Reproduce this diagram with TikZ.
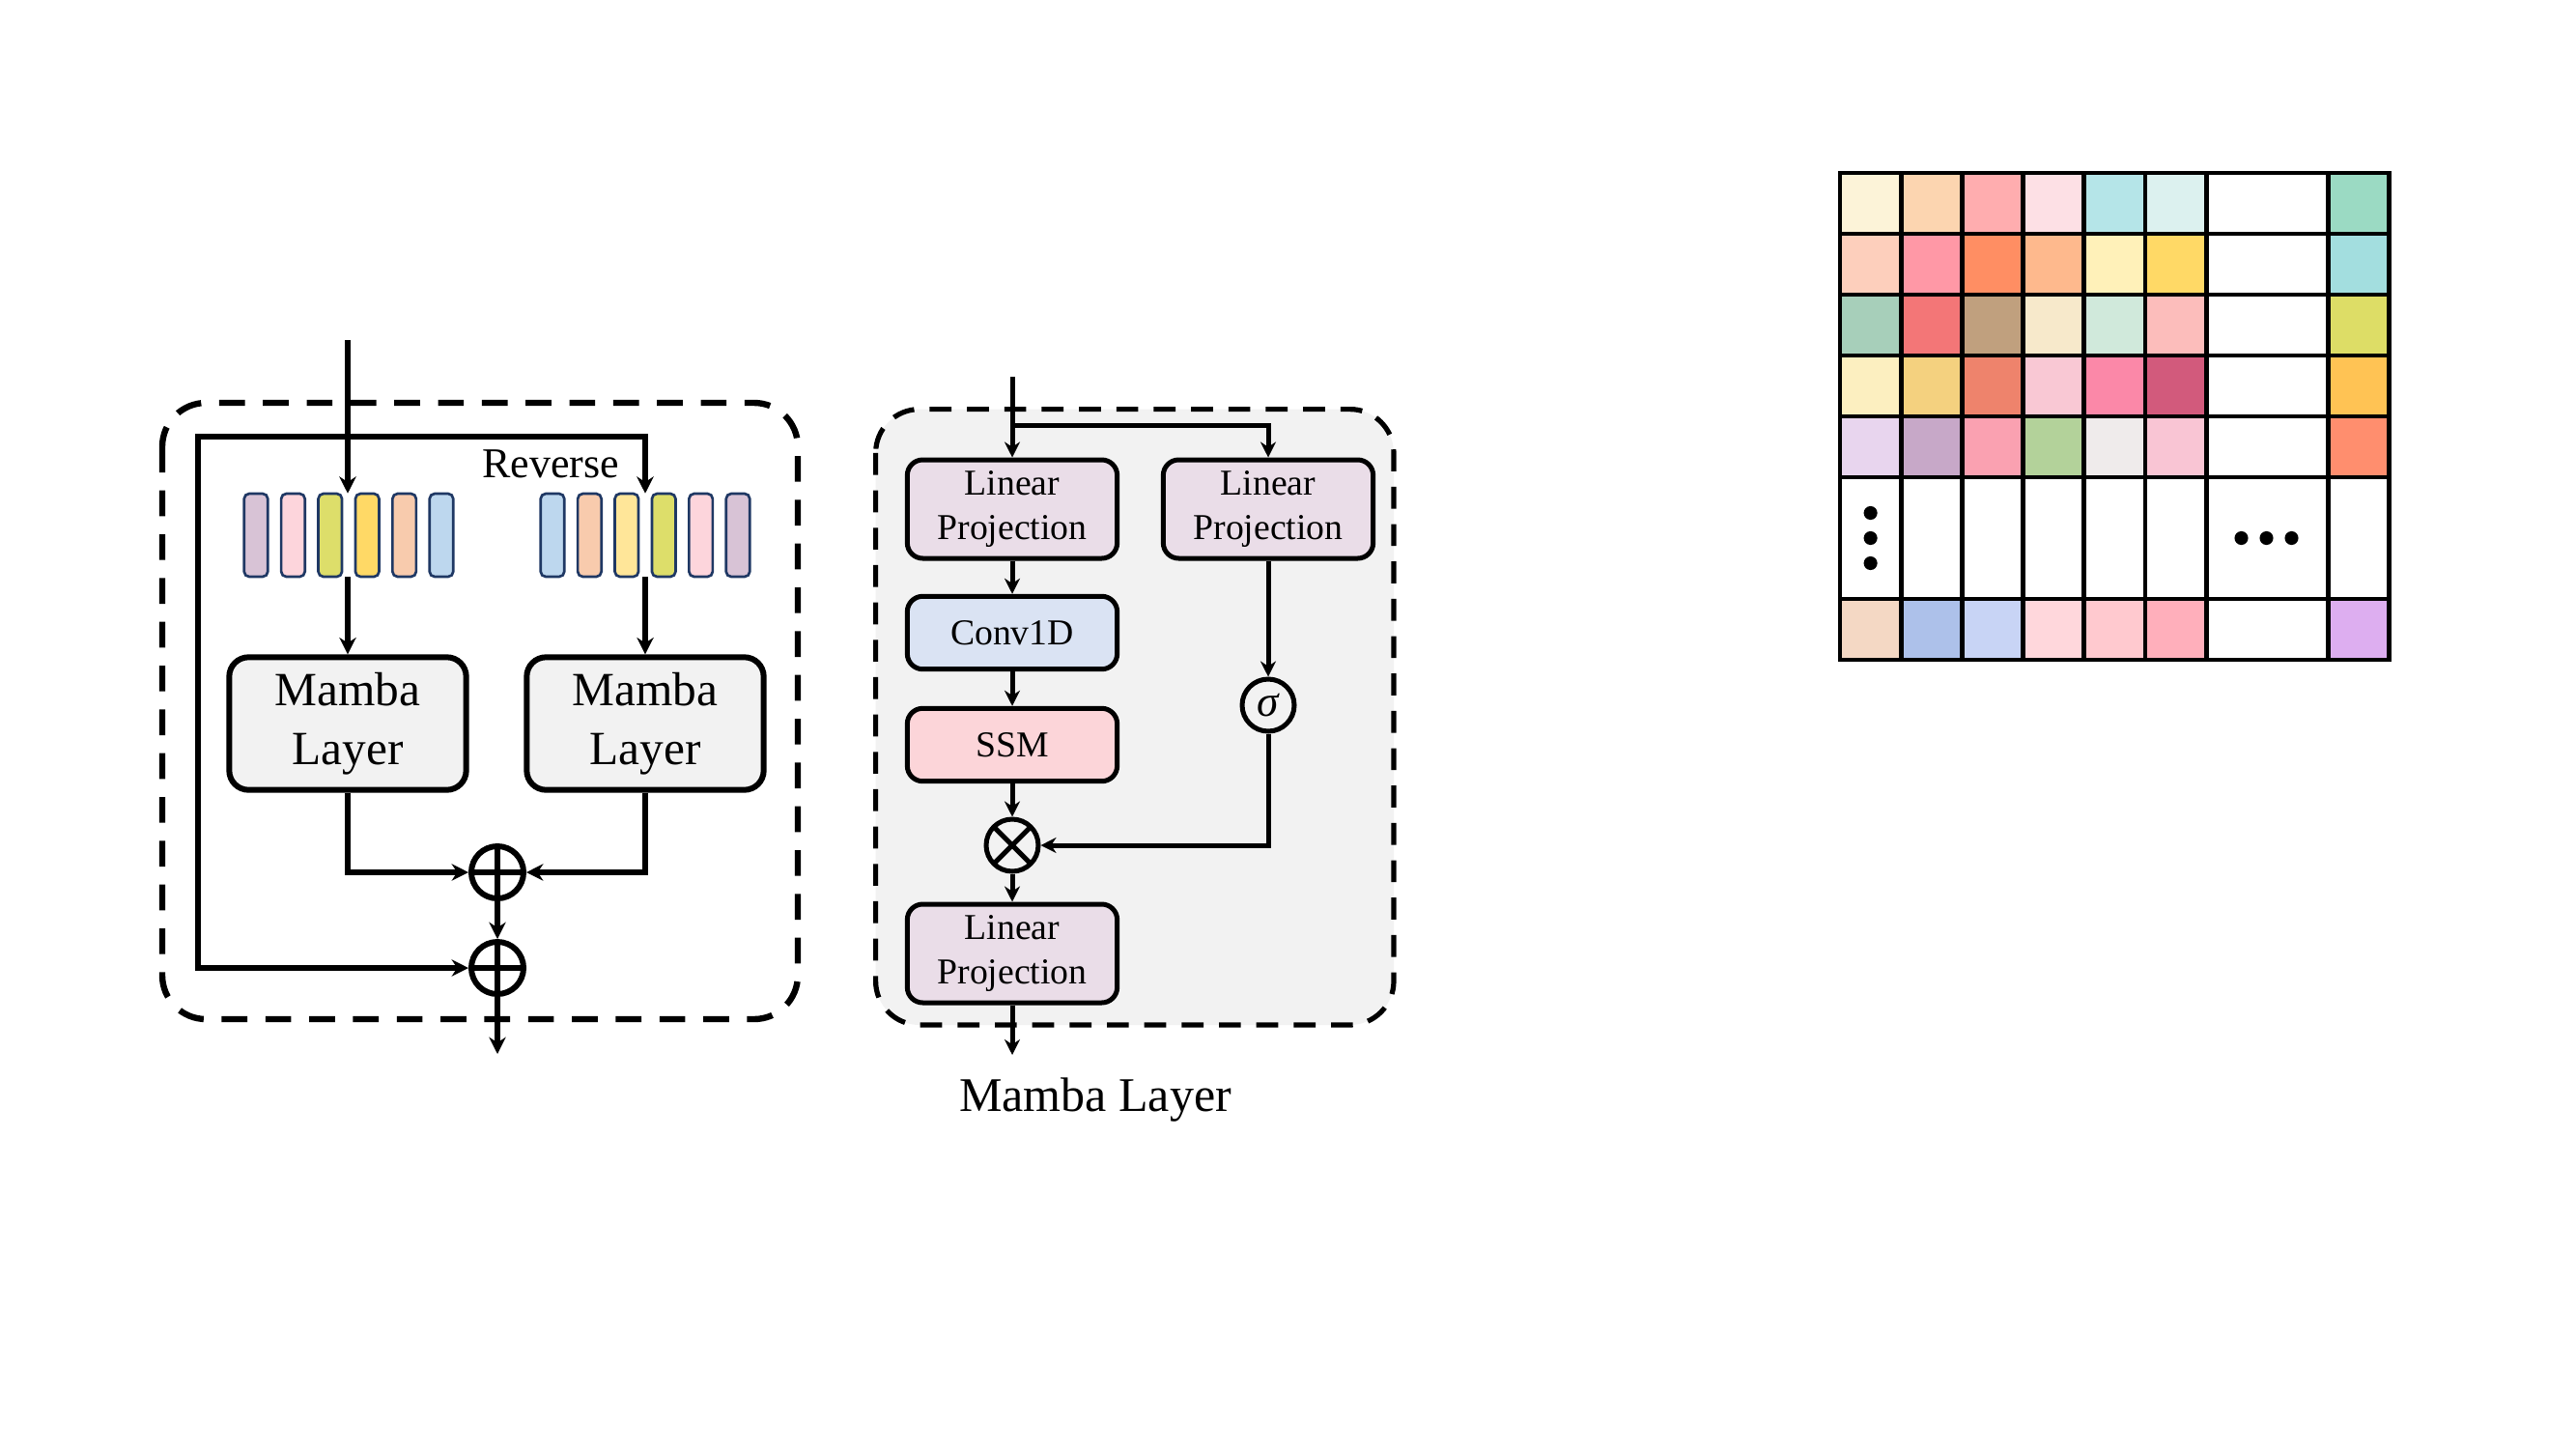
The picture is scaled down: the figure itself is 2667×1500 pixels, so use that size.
\documentclass[tikz,border=0pt]{standalone}
\usepackage{fontspec}
\setmainfont{Liberation Serif}
\usetikzlibrary{arrows.meta}
\definecolor{boxgray}{HTML}{F2F2F2}
\definecolor{projpurple}{HTML}{EADDE8}
\definecolor{convblue}{HTML}{DAE3F3}
\definecolor{ssmpink}{HTML}{FCD5D9}
\definecolor{tokedge}{HTML}{1F3864}
\definecolor{tokA}{HTML}{D8C3D6}
\definecolor{tokB}{HTML}{FDD5DC}
\definecolor{tokC}{HTML}{DDDE6A}
\definecolor{tokD}{HTML}{FFD966}
\definecolor{tokE}{HTML}{F8CBAD}
\definecolor{tokF}{HTML}{BDD7EE}
\definecolor{tokG}{HTML}{FFE699}

\begin{document}
\begin{tikzpicture}[x=0.75pt,y=0.75pt,yscale=-1,xscale=1,
  flow/.style={line width=4.5pt,-{Stealth[length=13pt,width=13pt]}},
  flowthin/.style={line width=3.75pt,-{Stealth[length=12pt,width=12pt]}},
  frame/.style={line width=4.8pt,dash pattern=on 20pt off 14pt,rounded corners=34pt},
  token/.style={draw=tokedge,line width=2pt,rounded corners=4pt,minimum width=18.4pt,minimum height=64.5pt,inner sep=0pt},
  mamba/.style={draw,fill=boxgray,line width=4.5pt,rounded corners=15pt,minimum width=184pt,minimum height=103pt,align=center,font=\fontsize{37}{45.5}\selectfont},
  block/.style={draw,line width=3.75pt,rounded corners=12pt,minimum width=163pt,inner sep=0pt,align=center,font=\fontsize{28.3}{35}\selectfont},
  opnode/.style={draw,circle,line width=4.5pt,minimum size=40.5pt,inner sep=0pt},
  oplus/.style={opnode,path picture={\draw[line width=4.5pt] (path picture bounding box.north) -- (path picture bounding box.south) (path picture bounding box.west) -- (path picture bounding box.east);}},
  otimes/.style={opnode,line width=3.75pt,path picture={\draw[line width=3.75pt] (path picture bounding box.north west) -- (path picture bounding box.south east) (path picture bounding box.north east) -- (path picture bounding box.south west);}},
  cellline/.style={line width=3.5pt}
]
\useasboundingbox (0,0) rectangle (2667,1500);

% bidirectional block
\draw[frame] (168,417) rectangle (826,1055);

\foreach \c [count=\i] in {tokA,tokB,tokC,tokD,tokE,tokF}
  \node[token,fill=\c] (tokL-\i) at (226.6+38.4*\i,554) {};
\foreach \c [count=\i] in {tokF,tokE,tokG,tokC,tokB,tokA}
  \node[token,fill=\c] (tokR-\i) at (533.6+38.4*\i,554) {};
\node[minimum width=172.8pt,minimum height=64.5pt,inner sep=0pt] (seqL) at (360,554) {};
\node[minimum width=172.8pt,minimum height=64.5pt,inner sep=0pt] (seqR) at (668,554) {};

\node[mamba] (mambaL) at (360,749) {Mamba\\Layer};
\node[mamba] (mambaR) at (668,749) {Mamba\\Layer};
\node[oplus] (sumA) at (515,903) {};
\node[oplus] (sumB) at (515,1002) {};
\node[font=\fontsize{33}{36}\selectfont,anchor=base] (rev) at (570,494) {Reverse};

\coordinate (inL) at (360,352);
\coordinate (split) at (360,451.5);
\coordinate (skip) at (204.5,451.5);
\coordinate (outL) at (515,1091);

\draw[flow] (inL) -- (seqL.north);
\draw[flow] (split) -| (seqR.north);
\draw[flow] (split) -- (skip) |- (sumB.west);
\draw[flow] (seqL.south) -- (mambaL.north);
\draw[flow] (seqR.south) -- (mambaR.north);
\draw[flow] (mambaL.south) |- (sumA.west);
\draw[flow] (mambaR.south) |- (sumA.east);
\draw[flow] (sumA.south) -- (sumB.north);
\draw[flow] (sumB.south) -- (outL);

% mamba layer
\draw[frame,fill=boxgray,line width=3.9pt,dash pattern=on 17pt off 12pt] (906.6,423.6) rectangle (1443,1061);

\node[block,fill=projpurple,minimum height=76.5pt] (lp1) at (1048,527) {Linear\\Projection};
\node[block,fill=projpurple,minimum height=76.5pt] (lp2) at (1313,527) {Linear\\Projection};
\node[block,fill=convblue,minimum height=56.6pt] (conv) at (1048,655) {Conv1D};
\node[block,fill=ssmpink,minimum height=56.6pt] (ssm) at (1048,771) {SSM};
\node[otimes] (mul) at (1048,875) {};
\node[opnode,line width=3.75pt,font=\fontsize{34}{36}\selectfont] (sig) at (1313,730) {\itshape σ};
\node[block,fill=projpurple,minimum height=76.5pt] (lp3) at (1048,987) {Linear\\Projection};
\node[font=\fontsize{37.5}{40}\selectfont,anchor=base] (cap) at (1134,1150) {Mamba Layer};

\coordinate (inR) at (1048,390);
\coordinate (fork) at (1048,440);
\coordinate (outR) at (1048,1092);

\draw[flowthin] (inR) -- (lp1.north);
\draw[flowthin] (fork) -| (lp2.north);
\draw[flowthin] (lp1) -- (conv);
\draw[flowthin] (conv) -- (ssm);
\draw[flowthin] (ssm) -- (mul);
\draw[flowthin] (mul) -- (lp3);
\draw[flowthin] (lp3) -- (outR);
\draw[flowthin] (lp2) -- (sig);
\draw[flowthin] (sig) |- (mul.east);

% sequence grid
\foreach \r/\hexes in {0/{FCF3D8,FCD5B0,FFADAF,FDE0E5,B5E5E8,DCF1EF,9BDAC3},
    1/{FDCFBC,FF98A6,FF8E63,FEB98D,FFF1B9,FFD966,A3DEDF},
    2/{A7CFBA,F37677,C0A07E,F7E9CB,D0E9DB,FCBDBB,DDDD66},
    3/{FCEFC0,F4D17F,EE836C,F9C8D4,FB88A8,D25A7C,FFC354},
    4/{E8D5EE,C7A8C8,FAA1B1,B3D29A,EFEBEB,F9C5D4,FF8E6E},
    7/{F4D8C4,ADC1EA,C8D4F5,FFD7DC,FFC9CF,FFAFBB,DDAEF0}}
  \foreach \hex [count=\i] in \hexes {
    \pgfmathsetmacro{\cx}{\i<7 ? \i-1 : 8}
    \edef\setcell{\noexpand\definecolor{cellfill}{HTML}{\hex}}\setcell
    \fill[cellfill] (1905+63.2*\cx,179+63*\r) rectangle ++(63.2,63);
  }
\draw[cellline] (1905,179) rectangle (2473.8,683);
\foreach \cx in {1,...,6,8}
  \draw[cellline] (1905+63.2*\cx,179) -- (1905+63.2*\cx,683);
\foreach \r in {1,...,5,7}
  \draw[cellline] (1905,179+63*\r) -- (2473.8,179+63*\r);
\foreach \d in {-26,0,26} {
  \fill (1936.6,557+\d) circle[radius=5.3pt];
  \fill (2346.5+\d,557) circle[radius=5.3pt];
}
\end{tikzpicture}
\end{document}
